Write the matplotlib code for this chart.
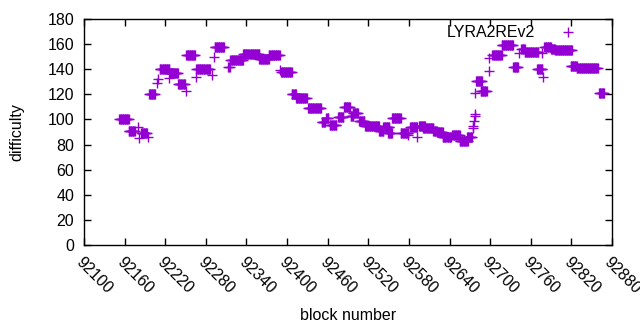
import numpy as np
import matplotlib
matplotlib.use("Agg")
import matplotlib.pyplot as plt

plt.rcParams['font.family'] = ['Liberation Sans', 'DejaVu Sans']

# runs of blocks that share one difficulty value: first block, last block, difficulty
run_start = [92152, 92166, 92180, 92181, 92184, 92195, 92196, 92208, 92209, 92212,
             92226, 92227, 92239, 92250, 92251, 92265, 92266, 92289, 92292, 92293,
             92312, 92314, 92316, 92335, 92359, 92373, 92390, 92391, 92407, 92413,
             92431, 92451, 92458, 92463, 92475, 92484, 92494, 92497, 92506, 92515,
             92536, 92542, 92549, 92555, 92568, 92579, 92582, 92592, 92595, 92601,
             92616, 92621, 92630, 92644, 92655, 92666, 92674, 92675, 92676, 92677,
             92678, 92678, 92679, 92686, 92698, 92699, 92703, 92717, 92734, 92743,
             92746, 92751, 92769, 92776, 92778, 92780, 92790, 92796, 92819,
             92828, 92861]
run_end = [92166, 92175, 92180, 92181, 92193, 92195, 92205, 92208, 92209, 92226,
           92226, 92239, 92249, 92250, 92264, 92265, 92286, 92289, 92292, 92307,
           92312, 92315, 92335, 92359, 92373, 92389, 92390, 92407, 92413, 92429,
           92450, 92456, 92461, 92473, 92483, 92493, 92498, 92505, 92514, 92536,
           92542, 92551, 92555, 92568, 92579, 92579, 92592, 92592, 92604, 92616,
           92621, 92630, 92642, 92655, 92667, 92673, 92674, 92675, 92676, 92677,
           92678, 92678, 92688, 92695, 92698, 92699, 92717, 92734, 92741, 92743,
           92751, 92771, 92777, 92776, 92778, 92790, 92796, 92821, 92828,
           92859, 92868]
run_diff = [100.5, 91, 94, 85, 89, 86, 120, 129, 132, 140,
            133, 137, 128, 123, 151.5, 134, 140, 135.5, 150, 158,
            142, 142, 147, 152, 148, 151, 139, 137.5, 120, 117,
            109.5, 98, 101, 95.5, 102, 110, 103, 105, 99, 95,
            91, 94, 89, 101, 89.5, 88, 94, 86, 95, 93,
            91, 90, 86, 88, 82.5, 86, 93, 95, 99, 103,
            104, 121, 131, 123, 138.5, 149, 151.5, 159, 142, 153,
            156, 153.5, 140, 153, 134, 158, 156, 155, 142.5,
            141, 121]

blocks = np.concatenate([np.arange(s, e + 1) for s, e in zip(run_start, run_end)])
difficulty = np.concatenate([np.full(e - s + 1, d) for s, e, d in zip(run_start, run_end, run_diff)])

xticks = list(range(92100, 92881, 60))
yticks = list(range(0, 181, 20))

fig = plt.figure(figsize=(6.4, 3.3), dpi=100)
ax = fig.add_axes([84 / 640, 1 - 245 / 330, 528 / 640, 226 / 330])

ax.plot(blocks, difficulty, linestyle='none', marker='+', markersize=7,
        markeredgewidth=1.0, color='#9400d3', label='LYRA2REv2')

ax.set_xlim(92100, 92880)
ax.set_ylim(0, 180)
ax.set_xticks(xticks)
ax.set_yticks(yticks)
ax.set_xticklabels([str(t) for t in xticks], rotation=-45, ha='left', va='top',
                   rotation_mode='anchor')
ax.tick_params(direction='in', top=True, right=True, length=5, width=1,
               labelsize=11.5, pad=7)
for sp in ax.spines.values():
    sp.set_linewidth(1)

ax.set_xlabel('block number', fontsize=11.5, labelpad=8)
ax.set_ylabel('difficulty', fontsize=11.5, labelpad=17)

ax.legend(loc='upper right', bbox_to_anchor=(0.974, 1.035), frameon=False,
          markerfirst=False, fontsize=11.5, handlelength=2.0, handletextpad=1.06)

fig.savefig('out.png', dpi=100)
